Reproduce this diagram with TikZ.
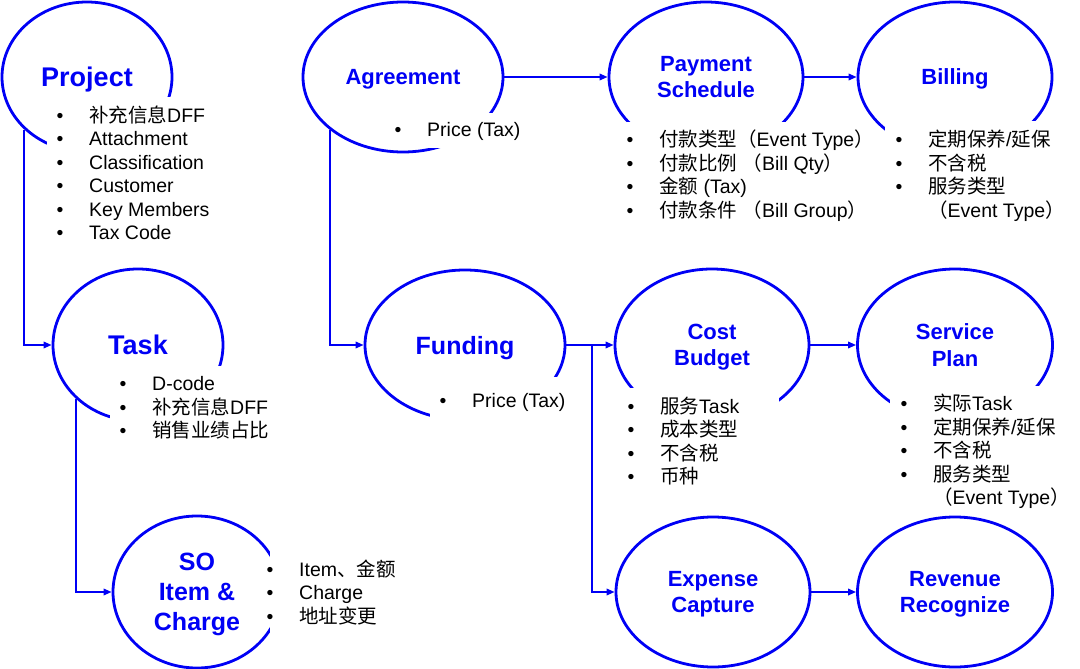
\documentclass[tikz,border=0pt]{standalone}
\usepackage{fontspec}
\setmainfont{Liberation Sans}
\newfontfamily\cjk{Noto Sans CJK SC}
\usetikzlibrary{shapes.geometric,arrows.meta}
\definecolor{pblue}{RGB}{0,0,245}
\newcommand\bitem[1]{\makebox[32.5pt][l]{•}#1\par}
\newcommand\contline[1]{\hspace*{32.5pt}#1\par}
\newcommand\blist[1]{\begin{minipage}[t]{400pt}\raggedright\parindent=0pt\fontsize{19.5}{23.5}\selectfont #1\end{minipage}}
\begin{document}
\begin{tikzpicture}[x=1pt,y=-1pt,
  ell/.style={ellipse, draw=pblue, line width=2.8pt, inner sep=0pt, text=pblue, align=center, text depth=0pt},
  tbig/.style={font=\bfseries\fontsize{27}{32}\selectfont},
  tmid/.style={font=\bfseries\fontsize{25}{30}\selectfont},
  tsml/.style={font=\bfseries\fontsize{22}{26.5}\selectfont},
  conn/.style={draw=pblue, line width=1.8pt, -{Triangle[length=8pt,width=6.5pt]}},
  mask/.style={fill=white},
  lst/.style={anchor=base west, inner sep=0pt, text=black}]
\useasboundingbox (0,0) rectangle (1080,669);
% ellipses
\node[ell, tbig, minimum width=170pt, minimum height=150pt] (proj) at (87,77) {Project};
\node[ell, tbig, minimum width=170pt, minimum height=152pt] (task) at (138,345) {Task};
\node[ell, tmid, minimum width=168pt, minimum height=152pt] (so) at (197,592) {SO\\Item \&\\Charge};
\node[ell, tsml, minimum width=200pt, minimum height=150pt] (agr) at (403,77) {Agreement};
\node[ell, tmid, minimum width=200pt, minimum height=150pt] (fund) at (465,345) {Funding};
\node[ell, tsml, minimum width=194pt, minimum height=150pt] (pay) at (706,77) {Payment\\Schedule};
\node[ell, tsml, minimum width=194pt, minimum height=150pt] (bill) at (955,77) {Billing};
\node[ell, tsml, minimum width=194pt, minimum height=152pt] (cost) at (712,345) {Cost\\Budget};
\node[ell, tsml, minimum width=195pt, minimum height=152pt] (serv) at (955,345) {Service\\Plan};
\node[ell, tsml, minimum width=194pt, minimum height=150pt] (exp) at (713,592) {Expense\\Capture};
\node[ell, tsml, minimum width=195pt, minimum height=150pt] (rev) at (955,592) {Revenue\\Recognize};
% connectors
\coordinate (br) at (592,345);
\draw[conn] (proj.220.6) |- (task.west);
\draw[conn] (task.221.9) |- (so.west);
\draw[conn] (agr.216.6) |- (fund.west);
\draw[conn] (agr.east) -- (pay.west);
\draw[conn] (pay.east) -- (bill.west);
\draw[conn] (fund.east) -- (cost.west);
\draw[conn] (br) |- (exp.west);
\draw[conn] (cost.east) -- (serv.west);
\draw[conn] (exp.east) -- (rev.west);
% masks (text boxes covering ellipse outlines)
\fill[mask] (47,97) rectangle (215,250);
\fill[mask] (110,366) rectangle (280,445);
\fill[mask] (270,548) rectangle (400,640);
\fill[mask] (384,113) rectangle (540,147.5);
\fill[mask] (430,377) rectangle (580,425);
\fill[mask] (617,122) rectangle (868,225);
\fill[mask] (885,121) rectangle (1075,225);
\fill[mask] (618,388) rectangle (779,495);
\fill[mask] (890,386) rectangle (1078,512);
% lists
\node[lst] (projl) at (56.5,122.3) {\blist{\bitem{{\cjk 补充信息}DFF}\bitem{Attachment}\bitem{Classification}\bitem{Customer}\bitem{Key Members}\bitem{Tax Code}}};
\node[lst] (taskl) at (119.5,390.7) {\blist{\bitem{D-code}\bitem{{\cjk 补充信息}DFF}\bitem{{\cjk 销售业绩占比}}}};
\node[lst] (sol) at (266.5,576) {\blist{\bitem{Item{\cjk 、金额}}\bitem{Charge}\bitem{{\cjk 地址变更}}}};
\node[lst] (agrl) at (394.5,136.7) {\blist{\bitem{Price (Tax)}}};
\node[lst] (fundl) at (439.5,407.7) {\blist{\bitem{Price (Tax)}}};
\node[lst] (payl) at (626.5,146.7) {\blist{\bitem{{\cjk 付款类型（}Event Type{\cjk ）}}\bitem{{\cjk 付款比例} {\cjk （}Bill Qty{\cjk ）}}\bitem{{\cjk 金额} (Tax)}\bitem{{\cjk 付款条件} {\cjk （}Bill Group{\cjk ）}}}};
\node[lst] (billl) at (895.5,146.7) {\blist{\bitem{{\cjk 定期保养}/{\cjk 延保}}\bitem{{\cjk 不含税}}\bitem{{\cjk 服务类型}}\contline{{\cjk （}Event Type{\cjk ）}}}};
\node[lst] (costl) at (627.5,413.3) {\blist{\bitem{{\cjk 服务}Task}\bitem{{\cjk 成本类型}}\bitem{{\cjk 不含税}}\bitem{{\cjk 币种}}}};
\node[lst] (servl) at (900.5,410.7) {\blist{\bitem{{\cjk 实际}Task}\bitem{{\cjk 定期保养}/{\cjk 延保}}\bitem{{\cjk 不含税}}\bitem{{\cjk 服务类型}}\contline{{\cjk （}Event Type{\cjk ）}}}};
\end{tikzpicture}
\end{document}
